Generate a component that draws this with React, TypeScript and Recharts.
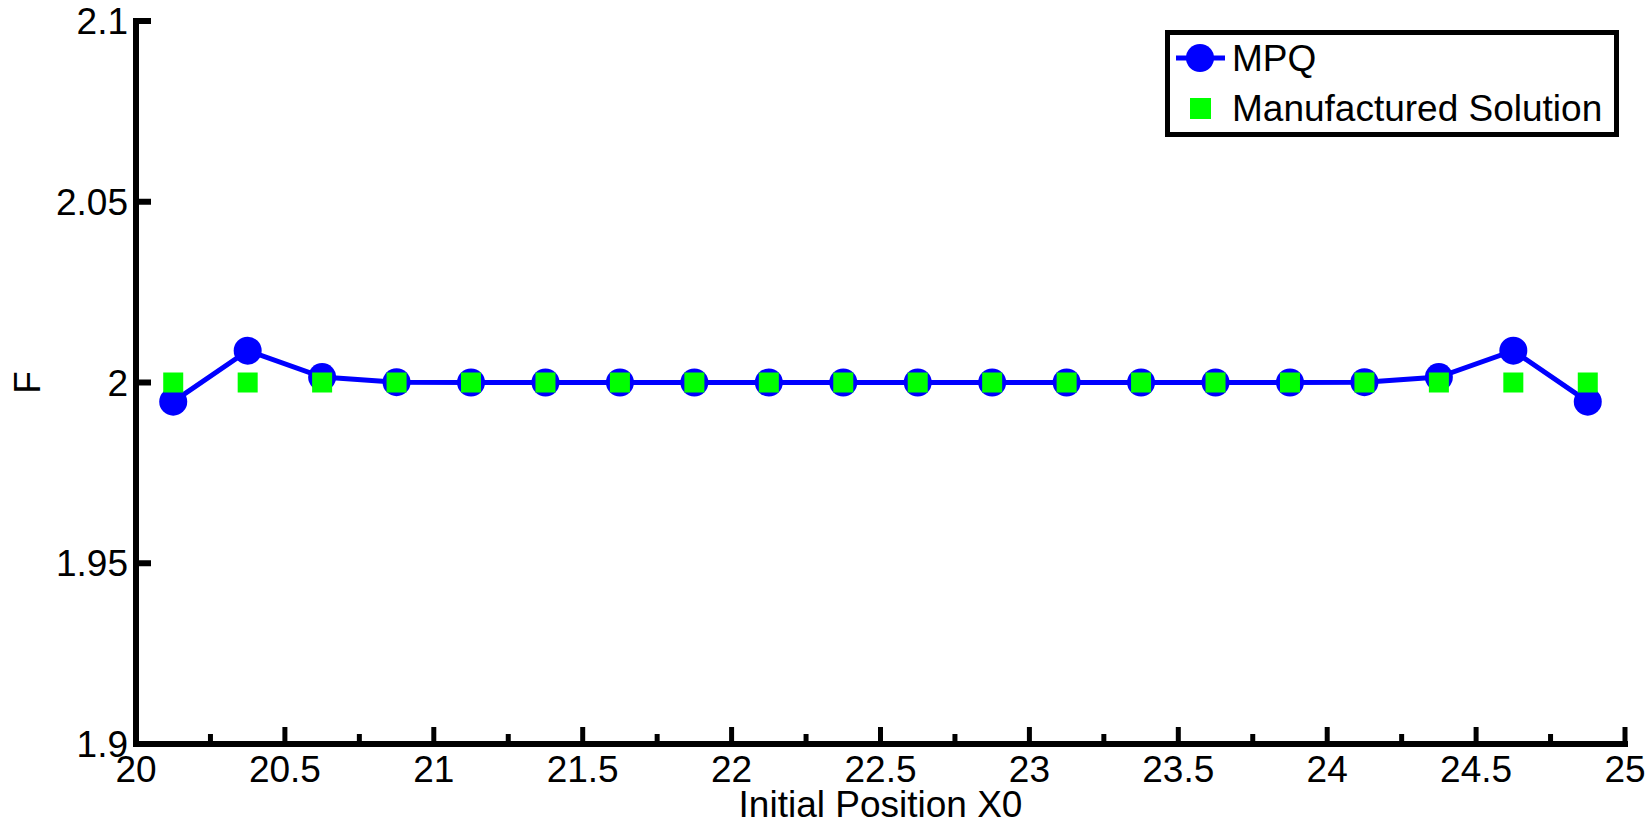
import React from 'react';
import {
    ComposedChart, Line, XAxis, YAxis, Legend,
} from 'recharts';

// initial positions X0 (cell centres)
const positions = [
    20.125, 20.375, 20.625, 20.875, 21.125, 21.375, 21.625, 21.875, 22.125, 22.375,
    22.625, 22.875, 23.125, 23.375, 23.625, 23.875, 24.125, 24.375, 24.625, 24.875,
];
const mpqValues = [
    1.9947, 2.0088, 2.0015, 2.0001, 2, 2, 2, 2, 2, 2,
    2, 2, 2, 2, 2, 2, 2.0001, 2.0015, 2.0088, 1.9947,
];
const manufacturedValues = [
    2, 2, 2, 2, 2, 2, 2, 2, 2, 2,
    2, 2, 2, 2, 2, 2, 2, 2, 2, 2,
];
const xTicks = [
    20, 20.25, 20.5, 20.75, 21, 21.25, 21.5, 21.75, 22, 22.25, 22.5,
    22.75, 23, 23.25, 23.5, 23.75, 24, 24.25, 24.5, 24.75, 25,
];
const xLabelTicks = [20, 20.5, 21, 21.5, 22, 22.5, 23, 23.5, 24, 24.5, 25];
const yTicks = [1.9, 1.95, 2, 2.05, 2.1];

const data = positions.map((x, i) => ({
    x,
    mpq: mpqValues[i],
    manufactured: manufacturedValues[i],
}));

const FONT = 37;

const XTick = (props: any) => {
    const {x, y, payload} = props;
    const major = xLabelTicks.includes(payload.value);
    return (
        <g>
            <line x1={x} x2={x} y1={y} y2={y - (major ? 17 : 10)} stroke="#000" strokeWidth={5}/>
            {major && (
                <text x={x} y={y + 38} textAnchor="middle" fontSize={FONT} fill="#000">{payload.value}</text>
            )}
        </g>
    );
};

const YTick = (props: any) => {
    const {x, y, payload} = props;
    return (
        <g>
            <line x1={x} x2={x + 15} y1={y} y2={y} stroke="#000" strokeWidth={6}/>
            <text x={x - 8} y={y} dy={13} textAnchor="end" fontSize={FONT} fill="#000">{payload.value}</text>
        </g>
    );
};

const YTitle = (props: any) => {
    const {viewBox} = props;
    const cx = viewBox.x + 40;
    const cy = viewBox.y + viewBox.height / 2;
    return (
        <text x={cx} y={cy} transform={`rotate(-90, ${cx}, ${cy})`} textAnchor="middle" fontSize={FONT} fill="#000">F</text>
    );
};

// green square marker, drawn on top of the MPQ circles
const Square = (props: any) => (
    <rect key={props.index} x={props.cx - 10} y={props.cy - 10} width={20} height={20} fill="#00ff00"/>
);

const LegendBox = (props: any) => {
    const {payload} = props;
    return (
        <svg width={454} height={107} style={{display: 'block'}}>
            <rect x={2.5} y={2.5} width={449} height={102} fill="#fff" stroke="#000" strokeWidth={5}/>
            {(payload || []).map((entry: any, i: number) => {
                const cy = 28 + i * 50;
                return (
                    <g key={entry.value}>
                        {entry.type === 'square' ? (
                            <rect x={25} y={cy - 10} width={21} height={21} fill="#00ff00"/>
                        ) : (
                            <g>
                                <line x1={11} x2={60} y1={cy} y2={cy} stroke={entry.color} strokeWidth={5}/>
                                <circle cx={35} cy={cy} r={14} fill={entry.color}/>
                            </g>
                        )}
                        <text x={67} y={cy + 13} fontSize={FONT} fill="#000">{entry.value}</text>
                    </g>
                );
            })}
        </svg>
    );
};

export default function App() {
    return (
        <div style={{position: 'absolute', left: 0, top: 0, fontFamily: '"Liberation Sans", Arial, sans-serif'}}>
            <ComposedChart width={1652} height={823} data={data}
                           margin={{top: 21, right: 27, bottom: 0, left: 0}}>
                <XAxis type="number" dataKey="x" domain={[20, 25]} ticks={xTicks} interval={0}
                       height={79} tickSize={0} tickMargin={0} tickLine={false}
                       axisLine={{stroke: '#000', strokeWidth: 6, strokeLinecap: 'square'}}
                       tick={<XTick/>}
                       label={{value: 'Initial Position X0', position: 'insideBottom', offset: 6, fontSize: FONT, fill: '#000'}}/>
                <YAxis type="number" domain={[1.9, 2.1]} ticks={yTicks} interval={0} allowDataOverflow
                       width={136} tickSize={0} tickMargin={0} tickLine={false}
                       axisLine={{stroke: '#000', strokeWidth: 6, strokeLinecap: 'square'}}
                       tick={<YTick/>}
                       label={<YTitle/>}/>
                <Legend layout="vertical" align="center" verticalAlign="middle"
                        wrapperStyle={{top: 30, left: 1165, width: 454, height: 107}}
                        content={<LegendBox/>}/>
                <Line name="MPQ" type="linear" dataKey="mpq" stroke="#0000ff" strokeWidth={5}
                      dot={{r: 14, fill: '#0000ff', stroke: 'none', strokeWidth: 0}}
                      activeDot={false} legendType="line" isAnimationActive={false}/>
                <Line name="Manufactured Solution" type="linear" dataKey="manufactured" stroke="none"
                      dot={<Square/>} activeDot={false} legendType="square" isAnimationActive={false}/>
            </ComposedChart>
        </div>
    );
}
